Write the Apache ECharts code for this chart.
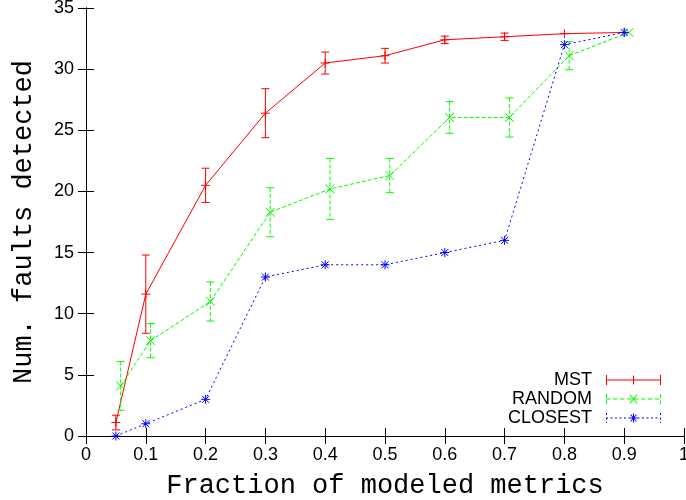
<!DOCTYPE html>
<html>
<head>
<meta charset="utf-8">
<script src="https://cdn.jsdelivr.net/npm/echarts@6/dist/echarts.min.js"></script>
<style>
html,body{margin:0;padding:0;background:#fff;}
#chart{width:686px;height:500px;}
</style>
</head>
<body>
<div id="chart"></div>
<script>
// ---- data ----
const mstX = [0.05, 0.1, 0.2, 0.3, 0.4, 0.5, 0.6, 0.7, 0.8, 0.9];
const mstY = [1.1, 11.6, 20.5, 26.4, 30.5, 31.1, 32.4, 32.65, 32.9, 33];
const mstErr = [0.6, 3.2, 1.4, 2.0, 0.9, 0.6, 0.3, 0.3, 0, 0];

const randX = [0.058, 0.108, 0.208, 0.308, 0.408, 0.508, 0.608, 0.708, 0.808, 0.908];
const randY = [4.1, 7.8, 11.0, 18.3, 20.2, 21.3, 26.05, 26.05, 31.1, 33];
const randErr = [2.0, 1.4, 1.6, 2.0, 2.5, 1.4, 1.3, 1.6, 1.15, 0];

const closX = [0.05, 0.1, 0.2, 0.3, 0.4, 0.5, 0.6, 0.7, 0.8, 0.9];
const closY = [0, 1, 3, 13, 14, 14, 15, 16, 32, 33];

const xTickLabels = ['0', '0.1', '0.2', '0.3', '0.4', '0.5', '0.6', '0.7', '0.8', '0.9', '1'];
const yTickLabels = ['0', '5', '10', '15', '20', '25', '30', '35'];

const seriesNames = ['MST', 'RANDOM', 'CLOSEST'];
const colors = ['#ff0000', '#00ff00', '#0000ff'];

// ---- helpers ----
function pair(xs, ys) { return xs.map((x, i) => [x, ys[i]]); }

function markerShapes(type, p, color) {
  const s = 4.5, out = [];
  const st = { stroke: color, lineWidth: 1 };
  if (type === '+' || type === '*') {
    out.push({ type: 'line', shape: { x1: p[0] - s, y1: p[1], x2: p[0] + s, y2: p[1] }, style: st });
    out.push({ type: 'line', shape: { x1: p[0], y1: p[1] - s, x2: p[0], y2: p[1] + s }, style: st });
  }
  if (type === 'x' || type === '*') {
    const d = type === '*' ? 3.5 : 4.5;
    out.push({ type: 'line', shape: { x1: p[0] - d, y1: p[1] - d, x2: p[0] + d, y2: p[1] + d }, style: st });
    out.push({ type: 'line', shape: { x1: p[0] - d, y1: p[1] + d, x2: p[0] + d, y2: p[1] - d }, style: st });
  }
  return out;
}

function errSeries(name, xs, ys, errs, color, dash, marker, z) {
  return {
    name: name,
    type: 'custom',
    z: z,
    silent: true,
    data: xs.map((x, i) => [x, ys[i], errs ? errs[i] : 0]),
    renderItem: function (params, api) {
      const x = api.value(0), y = api.value(1), e = api.value(2);
      const p = api.coord([x, y]);
      const children = [];
      if (e > 0) {
        const t = api.coord([x, y + e]);
        const b = api.coord([x, y - e]);
        const st = { stroke: color, lineWidth: 1, lineDash: dash };
        children.push({ type: 'line', shape: { x1: p[0], y1: t[1], x2: p[0], y2: b[1] }, style: st });
        children.push({ type: 'line', shape: { x1: p[0] - 4, y1: t[1], x2: p[0] + 4, y2: t[1] }, style: { stroke: color, lineWidth: 1 } });
        children.push({ type: 'line', shape: { x1: p[0] - 4, y1: b[1], x2: p[0] + 4, y2: b[1] }, style: { stroke: color, lineWidth: 1 } });
      }
      return { type: 'group', children: children.concat(markerShapes(marker, p, color)) };
    }
  };
}

function lineSeries(name, xs, ys, color, dash, z) {
  return {
    name: name,
    type: 'line',
    z: z,
    silent: true,
    symbol: 'none',
    animation: false,
    itemStyle: { color: color },
    lineStyle: { color: color, width: 1, type: dash },
    data: pair(xs, ys)
  };
}

// legend icons (550 x 100 units -> 55 x 10 px)
function rect(x0, y0, x1, y1) { return 'M' + x0 + ' ' + y0 + 'L' + x1 + ' ' + y0 + 'L' + x1 + ' ' + y1 + 'L' + x0 + ' ' + y1 + 'Z'; }
function dashedH(y0, y1, dashLen, gap) {
  let p = '';
  for (let x = 0; x < 550; x += dashLen + gap) p += rect(x, y0, Math.min(x + dashLen, 550), y1);
  return p;
}
function dashedV(x0, x1, dashLen, gap) {
  let p = '';
  for (let y = 20; y < 120; y += dashLen + gap) p += rect(x0, y, x1, Math.min(y + dashLen, 120));
  return p;
}
const plusPath = rect(270, 25, 280, 115) + rect(230, 65, 320, 75);
const crossPath = 'M232 28L246 28L318 112L304 112Z' + 'M304 28L318 28L246 112L232 112Z';
const starPath = rect(270, 25, 280, 115) + rect(230, 65, 320, 75) + 'M240 35L252 35L310 105L298 105Z' + 'M298 35L310 35L252 105L240 105Z';
const iconMST = 'path://' + rect(0, 65, 550, 75) + rect(0, 20, 10, 120) + rect(540, 20, 550, 120) + plusPath;
const iconRAND = 'path://' + dashedH(65, 75, 45, 25) + dashedV(0, 10, 40, 25) + dashedV(540, 550, 40, 25) + crossPath;
const iconCLOS = 'path://' + dashedH(65, 75, 20, 25) + dashedV(0, 10, 20, 25) + dashedV(540, 550, 20, 25) + starPath;
const legendIcons = [iconMST, iconRAND, iconCLOS];

const chart = echarts.init(document.getElementById('chart'), null, { renderer: 'canvas' });

const axisLineStyle = { color: '#000', width: 1 };
const tickFont = { fontFamily: 'Liberation Sans', fontSize: 18, color: '#000' };
const titleFont = { fontFamily: 'Liberation Mono', fontSize: 27, color: '#000' };

chart.setOption({
  animation: false,
  backgroundColor: '#fff',
  grid: { left: 86, right: 2, top: 8, bottom: 64, containLabel: false, outerBoundsMode: 'none' },
  legend: {
    orient: 'vertical',
    right: 20,
    top: 366,
    align: 'right',
    itemWidth: 55,
    itemHeight: 14,
    itemGap: 1,
    selectedMode: false,
    itemStyle: { borderWidth: 0 },
    textStyle: { fontFamily: 'Liberation Sans', fontSize: 18, color: '#000', padding: [0, 9, 0, 0] },
    data: seriesNames.map((n, i) => ({ name: n, icon: legendIcons[i], itemStyle: { color: colors[i], borderWidth: 0 } }))
  },
  xAxis: [{
    type: 'value', min: 0, max: 1, interval: 0.1,
    name: 'Fraction of modeled metrics', nameLocation: 'middle', nameGap: 36,
    nameTextStyle: titleFont,
    axisLine: { show: true, lineStyle: axisLineStyle },
    axisTick: { show: true, inside: true, length: 8, lineStyle: axisLineStyle },
    axisLabel: Object.assign({ margin: 10, formatter: v => xTickLabels[Math.round(v * 10)] }, tickFont),
    splitLine: { show: false }
  }, {
    type: 'value', min: 0, max: 1, interval: 0.1, position: 'top',
    axisLine: { show: true, lineStyle: axisLineStyle },
    axisTick: { show: true, inside: true, length: 8, lineStyle: axisLineStyle },
    axisLabel: { show: false },
    splitLine: { show: false }
  }],
  yAxis: [{
    type: 'value', min: 0, max: 35, interval: 5,
    name: 'Num. faults detected', nameLocation: 'middle', nameGap: 49,
    nameTextStyle: titleFont,
    axisLine: { show: true, lineStyle: axisLineStyle },
    axisTick: { show: true, inside: true, length: 8, lineStyle: axisLineStyle },
    axisLabel: Object.assign({ margin: 12, formatter: v => yTickLabels[Math.round(v / 5)] }, tickFont),
    splitLine: { show: false }
  }, {
    type: 'value', min: 0, max: 35, interval: 5, position: 'right',
    axisLine: { show: true, lineStyle: axisLineStyle },
    axisTick: { show: true, inside: true, length: 8, lineStyle: axisLineStyle },
    axisLabel: { show: false },
    splitLine: { show: false }
  }],
  series: [
    lineSeries('MST', mstX, mstY, colors[0], 'solid', 2),
    errSeries('MST', mstX, mstY, mstErr, colors[0], null, '+', 2),
    lineSeries('RANDOM', randX, randY, colors[1], [4, 2], 3),
    errSeries('RANDOM', randX, randY, randErr, colors[1], [4, 2], 'x', 3),
    lineSeries('CLOSEST', closX, closY, colors[2], [2, 3], 4),
    errSeries('CLOSEST', closX, closY, null, colors[2], null, '*', 4)
  ]
});
</script>
</body>
</html>
